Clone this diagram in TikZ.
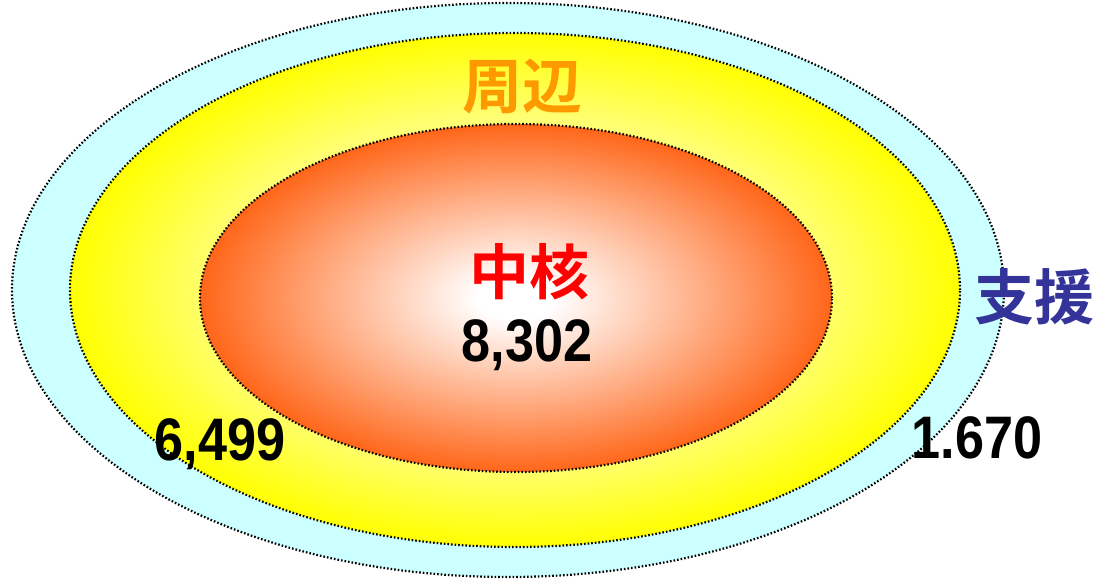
\documentclass[tikz,border=0pt]{standalone}
\usepackage{fontspec}
\newfontfamily\cjkfont{Noto Sans CJK JP}[BoldFont={* Bold}]
\newfontfamily\numfont{Liberation Sans}
\definecolor{ringcyan}{HTML}{CCFFFF}
\definecolor{coreedge}{HTML}{FF6619}
\definecolor{periorange}{HTML}{FF9900}
\definecolor{supblue}{HTML}{333399}
\pgfdeclareradialshading{yellowglow}{\pgfpoint{0bp}{0bp}}{%
  color(0bp)=(yellow!35!white); color(17bp)=(yellow!55!white);
  color(25bp)=(yellow); color(50bp)=(yellow)}
\pgfdeclareradialshading{coreglow}{\pgfpoint{0bp}{0bp}}{%
  color(0bp)=(white); color(3bp)=(white);
  color(25bp)=(coreedge); color(50bp)=(coreedge)}
\tikzset{
  ringline/.style={draw=black, line width=2.2pt, dash pattern=on 1.6pt off 2pt},
  cjklabel/.style={font=\cjkfont\bfseries\fontsize{60}{60}\selectfont, inner sep=0pt},
  numlabel/.style={font=\numfont\bfseries\fontsize{60}{60}\selectfont, inner sep=0pt, xscale=0.87, anchor=base}
}
\begin{document}
\begin{tikzpicture}[x=1pt,y=1pt]
\useasboundingbox (0,0) rectangle (1098,579);
% outer ring
\fill[ringcyan] (508,289) ellipse [x radius=496, y radius=287];
\draw[ringline] (508,289) ellipse [x radius=496, y radius=287];
% middle ring
\shade[shading=yellowglow] (515,289) ellipse [x radius=445, y radius=257];
\draw[ringline] (515,289) ellipse [x radius=445, y radius=257];
% inner core
\shade[shading=coreglow] (516,281) ellipse [x radius=316, y radius=174];
\draw[ringline] (516,281) ellipse [x radius=316, y radius=174];
% labels
\node[cjklabel, text=periorange] (peri) at (522,492) {周辺};
\node[cjklabel, text=red] (core) at (529,307) {中核};
\node[numlabel] (corenum) at (527,217) {8,302};
\node[cjklabel, text=supblue] (sup) at (1034,282) {支援};
\node[numlabel] (perinum) at (220,119) {6,499};
\node[numlabel] (supnum) at (977,121) {1.670};
\end{tikzpicture}
\end{document}
